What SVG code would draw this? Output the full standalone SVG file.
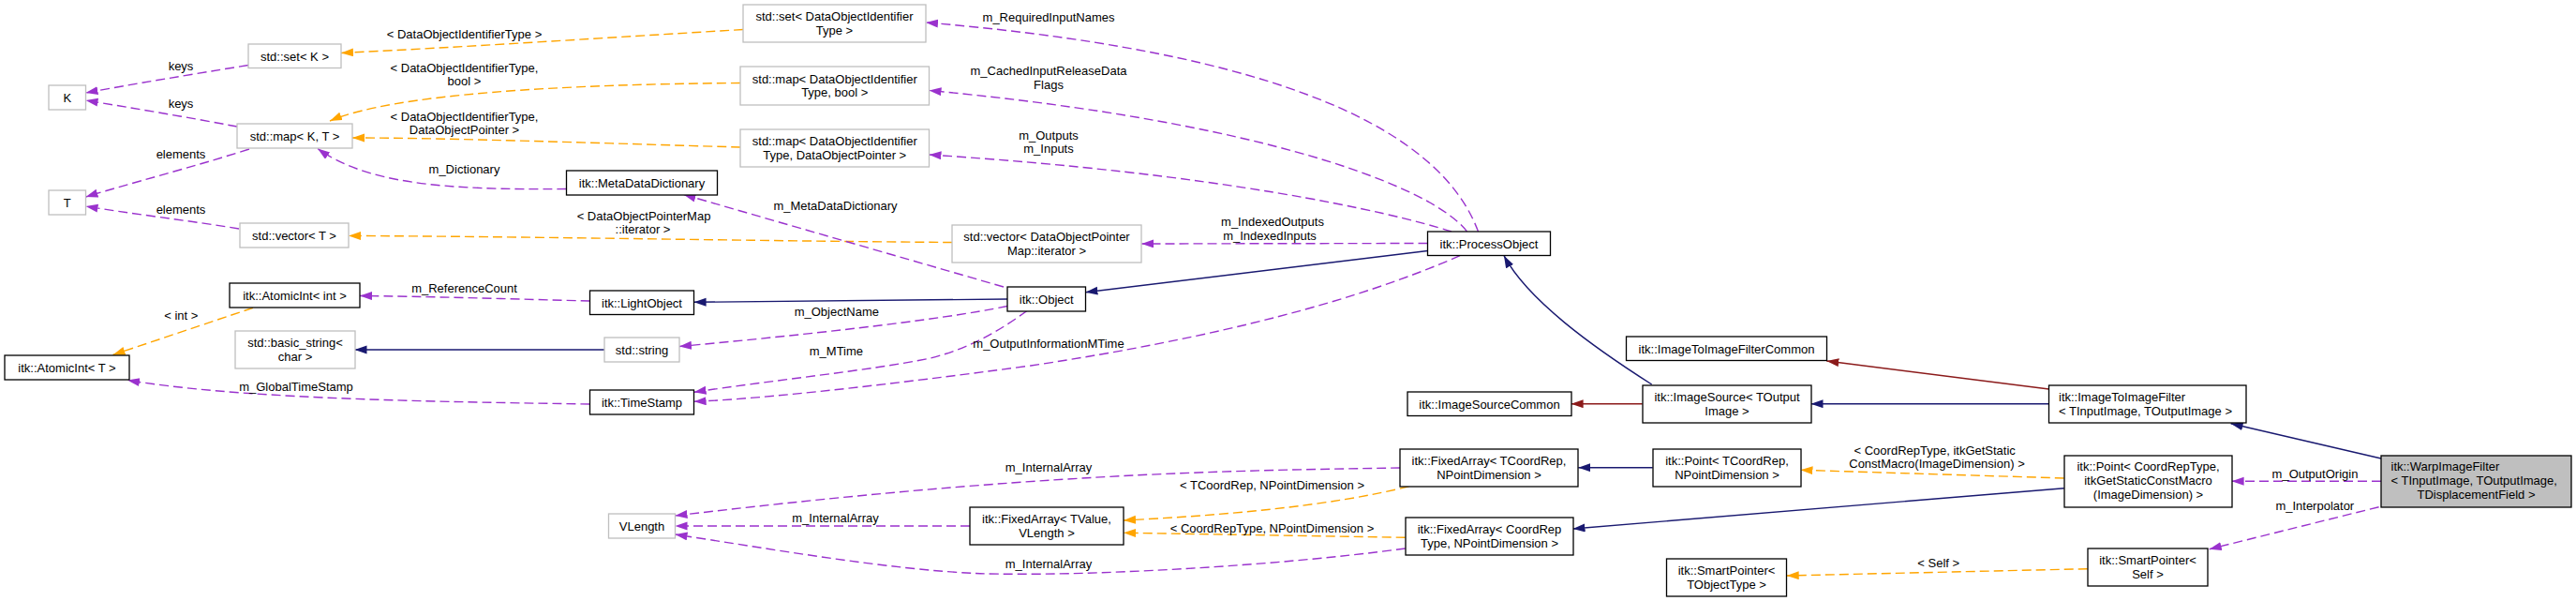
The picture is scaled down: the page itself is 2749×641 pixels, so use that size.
<svg xmlns="http://www.w3.org/2000/svg" width="2749" height="641" viewBox="0 0 2749 641">
<style>
text{font-family:"Liberation Sans",Arial,sans-serif;font-size:13px;fill:#000}
.c{text-anchor:middle}
.l{text-anchor:start}
.nd{fill:#fff;stroke:#000;stroke-width:1.3}
.ud{fill:#fff;stroke:#bfbfbf;stroke-width:1.3}
.main{fill:#bfbfbf;stroke:#000;stroke-width:1.3}
.e{fill:none;stroke-width:1.4}
.p{stroke:#9a32cd;stroke-dasharray:10,5;marker-end:url(#ap)}
.o{stroke:#ffa500;stroke-dasharray:10,5;marker-end:url(#ao)}
.n{stroke:#191970;marker-end:url(#an)}
.r{stroke:#8b1a1a;marker-end:url(#ar)}
</style>
<defs>
<marker id="ap" markerUnits="userSpaceOnUse" markerWidth="14" markerHeight="10" refX="13" refY="4.5" orient="auto"><path d="M0,0 L13,4.5 L0,9 z" fill="#9a32cd"/></marker>
<marker id="ao" markerUnits="userSpaceOnUse" markerWidth="14" markerHeight="10" refX="13" refY="4.5" orient="auto"><path d="M0,0 L13,4.5 L0,9 z" fill="#ffa500"/></marker>
<marker id="an" markerUnits="userSpaceOnUse" markerWidth="14" markerHeight="10" refX="13" refY="4.5" orient="auto"><path d="M0,0 L13,4.5 L0,9 z" fill="#191970"/></marker>
<marker id="ar" markerUnits="userSpaceOnUse" markerWidth="14" markerHeight="10" refX="13" refY="4.5" orient="auto"><path d="M0,0 L13,4.5 L0,9 z" fill="#8b1a1a"/></marker>
</defs>
<rect width="2749" height="641" fill="#fff"/>
<g id="connectors">
<path class="e p" d="M265,69.5 C200,80 140,90 91.5,99"/>
<path class="e p" d="M253,135 C200,125 140,115 91.5,107"/>
<path class="e p" d="M266,159 C200,180 140,195 91.5,210"/>
<path class="e p" d="M255,244 C200,235 140,228 91.5,220"/>
<path class="e o" d="M793,31.5 C650,40 500,50 364,56.5"/>
<path class="e o" d="M790,88.5 C600,90 420,100 352,129"/>
<path class="e o" d="M790,157 C650,153 480,147 376,147"/>
<path class="e o" d="M1016,258.5 C800,257 550,252 372,251.5"/>
<path class="e p" d="M604.5,201.5 C470,203 390,195 339,158.5"/>
<path class="e p" d="M1071,306 L729.5,207.5"/>
<path class="e p" d="M1577.5,247 C1545,160 1420,60 988,24"/>
<path class="e p" d="M1565.5,247 C1530,200 1350,130 991.5,96.5"/>
<path class="e p" d="M1549,247 C1480,225 1300,185 991.5,165"/>
<path class="e p" d="M1523.5,259.5 L1218.3,260"/>
<path class="e n" d="M1523.5,267.5 L1158.4,311.7"/>
<path class="e n" d="M1075,319 L740.6,322.3"/>
<path class="e p" d="M1075,326.5 C1000,342 850,358 725,369.5"/>
<path class="e p" d="M1096,331.5 C1070,350 1040,370 993,382 C930,395 820,406 740.6,418.3"/>
<path class="e p" d="M1558,272.7 C1450,320 1300,360 1100,390 C950,410 820,425 740.6,428.3"/>
<path class="e n" d="M645,373 L378.5,373"/>
<path class="e p" d="M629.5,321 C550,319 450,316 384,315.5"/>
<path class="e o" d="M270,328.3 L120.5,378.5"/>
<path class="e p" d="M629.5,431 C420,428 250,424 136,405.5"/>
<path class="e n" d="M1762.7,410 C1700,370 1630,320 1605,272.7"/>
<path class="e r" d="M1752.7,430.7 L1676.6,430.7"/>
<path class="e n" d="M2186.5,430.7 L1932.5,430.7"/>
<path class="e r" d="M2186.5,415 L1949.3,385"/>
<path class="e n" d="M2541,489 L2380.6,451.7"/>
<path class="e p" d="M2541,513.3 L2381.6,513.3"/>
<path class="e p" d="M2538.6,540.7 L2357.7,585.7"/>
<path class="e o" d="M2227.7,606.7 L1906.7,614"/>
<path class="e o" d="M2202.8,510 L1921.5,501.3"/>
<path class="e n" d="M2202.8,520.7 L1678.5,564"/>
<path class="e n" d="M1763.7,498.7 L1684.3,498.7"/>
<path class="e o" d="M1503.5,518.7 C1420,540 1300,550 1199,555"/>
<path class="e o" d="M1499.7,573.3 L1199,568.3"/>
<path class="e p" d="M1494,499 C1300,502 1100,505 720.5,550"/>
<path class="e p" d="M1035,561 L720.5,561"/>
<path class="e p" d="M1499.7,585 C1350,605 1150,615 1046,611.7 C950,608 820,585 720.5,570"/>
<text class="c" x="495.5" y="41">&lt; DataObjectIdentifierType &gt;</text>
<text class="c" x="193" y="75">keys</text>
<text class="c" x="495.5" y="76.5">&lt; DataObjectIdentifierType,</text>
<text class="c" x="495.5" y="91">bool &gt;</text>
<text class="c" x="193" y="115">keys</text>
<text class="c" x="495.5" y="128.5">&lt; DataObjectIdentifierType,</text>
<text class="c" x="495.5" y="142.5">DataObjectPointer &gt;</text>
<text class="c" x="193" y="169">elements</text>
<text class="c" x="495.5" y="185">m_Dictionary</text>
<text class="c" x="193" y="228">elements</text>
<text class="c" x="687" y="234.5">&lt; DataObjectPointerMap</text>
<text class="c" x="686" y="249">::iterator &gt;</text>
<text class="c" x="495.5" y="311.5">m_ReferenceCount</text>
<text class="c" x="193.3" y="341">&lt; int &gt;</text>
<text class="c" x="316" y="417">m_GlobalTimeStamp</text>
<text class="c" x="1119" y="23">m_RequiredInputNames</text>
<text class="c" x="1119" y="80">m_CachedInputReleaseData</text>
<text class="c" x="1119" y="95">Flags</text>
<text class="c" x="1119" y="148.5">m_Outputs</text>
<text class="c" x="1119" y="163">m_Inputs</text>
<text class="c" x="891.5" y="224">m_MetaDataDictionary</text>
<text class="c" x="1358" y="241">m_IndexedOutputs</text>
<text class="c" x="1355" y="256">m_IndexedInputs</text>
<text class="c" x="892.8" y="337">m_ObjectName</text>
<text class="c" x="892.4" y="379">m_MTime</text>
<text class="c" x="1119" y="371">m_OutputInformationMTime</text>
<text class="c" x="1119" y="503">m_InternalArray</text>
<text class="c" x="891.5" y="557">m_InternalArray</text>
<text class="c" x="1119" y="605.5">m_InternalArray</text>
<text class="c" x="1357.5" y="521.5">&lt; TCoordRep, NPointDimension &gt;</text>
<text class="c" x="1357.5" y="567.5">&lt; CoordRepType, NPointDimension &gt;</text>
<text class="c" x="2064.7" y="484.5">&lt; CoordRepType, itkGetStatic</text>
<text class="c" x="2067" y="499">ConstMacro(ImageDimension) &gt;</text>
<text class="c" x="2470.5" y="509.5">m_OutputOrigin</text>
<text class="c" x="2470.3" y="544">m_Interpolator</text>
<text class="c" x="2068.7" y="604.5">&lt; Self &gt;</text>
</g>
<g id="n_K"><rect class="ud" x="52" y="91" width="39.5" height="26"/><text class="c" x="71.75" y="108.5">K</text></g>
<g id="n_T"><rect class="ud" x="52" y="203" width="39.5" height="26"/><text class="c" x="71.75" y="220.5">T</text></g>
<g id="n_setK"><rect class="ud" x="265" y="47" width="99" height="25.5"/><text class="c" x="314.5" y="64.5">std::set&lt; K &gt;</text></g>
<g id="n_mapKT"><rect class="ud" x="253" y="132" width="123" height="26"/><text class="c" x="314.5" y="149.5">std::map&lt; K, T &gt;</text></g>
<g id="n_vectorT"><rect class="ud" x="256" y="238" width="116" height="26"/><text class="c" x="314" y="255.5">std::vector&lt; T &gt;</text></g>
<g id="n_atomicInt"><rect class="nd" x="245" y="302" width="139" height="26"/><text class="c" x="314.5" y="319.5">itk::AtomicInt&lt; int &gt;</text></g>
<g id="n_atomicT"><rect class="nd" x="5" y="379" width="133" height="26"/><text class="c" x="71.5" y="396.5">itk::AtomicInt&lt; T &gt;</text></g>
<g id="n_basicString"><rect class="ud" x="251" y="353" width="128" height="40"/><text class="c" x="315" y="370">std::basic_string&lt;</text><text class="c" x="315" y="384.5">char &gt;</text></g>
<g id="n_setDOIT"><rect class="ud" x="793" y="5" width="195" height="40"/><text class="c" x="890.5" y="22">std::set&lt; DataObjectIdentifier</text><text class="c" x="890.5" y="36.5">Type &gt;</text></g>
<g id="n_mapBool"><rect class="ud" x="790" y="71" width="201.5" height="41"/><text class="c" x="890.75" y="88.5">std::map&lt; DataObjectIdentifier</text><text class="c" x="890.75" y="103">Type, bool &gt;</text></g>
<g id="n_mapDOP"><rect class="ud" x="790" y="138" width="201.5" height="40"/><text class="c" x="890.75" y="155">std::map&lt; DataObjectIdentifier</text><text class="c" x="890.75" y="169.5">Type, DataObjectPointer &gt;</text></g>
<g id="n_metaDataDictionary"><rect class="nd" x="604.5" y="182" width="161" height="26"/><text class="c" x="685" y="199.5">itk::MetaDataDictionary</text></g>
<g id="n_vectorDOPM"><rect class="ud" x="1016" y="240" width="202" height="40"/><text class="c" x="1117" y="257">std::vector&lt; DataObjectPointer</text><text class="c" x="1117" y="271.5">Map::iterator &gt;</text></g>
<g id="n_object"><rect class="nd" x="1075" y="306" width="83.5" height="26"/><text class="c" x="1116.75" y="323.5">itk::Object</text></g>
<g id="n_lightObject"><rect class="nd" x="629.5" y="310" width="111" height="25.5"/><text class="c" x="685" y="327.5">itk::LightObject</text></g>
<g id="n_stdString"><rect class="ud" x="645" y="360" width="80" height="26"/><text class="c" x="685" y="377.5">std::string</text></g>
<g id="n_timeStamp"><rect class="nd" x="629.5" y="416" width="111" height="26"/><text class="c" x="685" y="433.5">itk::TimeStamp</text></g>
<g id="n_vlength"><rect class="ud" x="649.5" y="548" width="71" height="26"/><text class="c" x="685" y="565.5">VLength</text></g>
<g id="n_fixedArrayTValue"><rect class="nd" x="1035" y="541" width="164" height="40"/><text class="c" x="1117" y="558">itk::FixedArray&lt; TValue,</text><text class="c" x="1117" y="572.5">VLength &gt;</text></g>
<g id="n_processObject"><rect class="nd" x="1523.5" y="247" width="131" height="25.5"/><text class="c" x="1589" y="264.5">itk::ProcessObject</text></g>
<g id="n_imageToImageFilterCommon"><rect class="nd" x="1735.5" y="359" width="214" height="25.5"/><text class="c" x="1842.5" y="376.5">itk::ImageToImageFilterCommon</text></g>
<g id="n_imageSourceCommon"><rect class="nd" x="1502" y="418" width="175" height="25.5"/><text class="c" x="1589.5" y="435.5">itk::ImageSourceCommon</text></g>
<g id="n_imageSource"><rect class="nd" x="1753" y="411" width="180" height="40"/><text class="c" x="1843" y="428">itk::ImageSource&lt; TOutput</text><text class="c" x="1843" y="442.5">Image &gt;</text></g>
<g id="n_fixedArrayTCoordRep"><rect class="nd" x="1494" y="479" width="190" height="40"/><text class="c" x="1589" y="496">itk::FixedArray&lt; TCoordRep,</text><text class="c" x="1589" y="510.5">NPointDimension &gt;</text></g>
<g id="n_pointTCoordRep"><rect class="nd" x="1764" y="479" width="158" height="40"/><text class="c" x="1843" y="496">itk::Point&lt; TCoordRep,</text><text class="c" x="1843" y="510.5">NPointDimension &gt;</text></g>
<g id="n_fixedArrayCoordRepType"><rect class="nd" x="1500" y="552" width="179" height="40"/><text class="c" x="1589.5" y="569">itk::FixedArray&lt; CoordRep</text><text class="c" x="1589.5" y="583.5">Type, NPointDimension &gt;</text></g>
<g id="n_smartPointerTObjectType"><rect class="nd" x="1778.5" y="596" width="128" height="40"/><text class="c" x="1842.5" y="613">itk::SmartPointer&lt;</text><text class="c" x="1842.5" y="627.5">TObjectType &gt;</text></g>
<g id="n_imageToImageFilter"><rect class="nd" x="2186.5" y="411" width="210.5" height="40"/><text class="l" x="2197" y="428">itk::ImageToImageFilter</text><text class="l" x="2197" y="442.5">&lt; TInputImage, TOutputImage &gt;</text></g>
<g id="n_pointCoordRepType"><rect class="nd" x="2203" y="486" width="179" height="55"/><text class="c" x="2292.5" y="502.2">itk::Point&lt; CoordRepType,</text><text class="c" x="2292.5" y="516.8">itkGetStaticConstMacro</text><text class="c" x="2292.5" y="531.5">(ImageDimension) &gt;</text></g>
<g id="n_warpImageFilter"><rect class="main" x="2541" y="486" width="203" height="55"/><text class="l" x="2551.5" y="502.2">itk::WarpImageFilter</text><text class="l" x="2551.5" y="516.8">&lt; TInputImage, TOutputImage,</text><text class="c" x="2642.5" y="531.5">TDisplacementField &gt;</text></g>
<g id="n_smartPointerSelf"><rect class="nd" x="2228" y="585" width="128" height="40"/><text class="c" x="2292" y="602">itk::SmartPointer&lt;</text><text class="c" x="2292" y="616.5">Self &gt;</text></g>
</svg>
